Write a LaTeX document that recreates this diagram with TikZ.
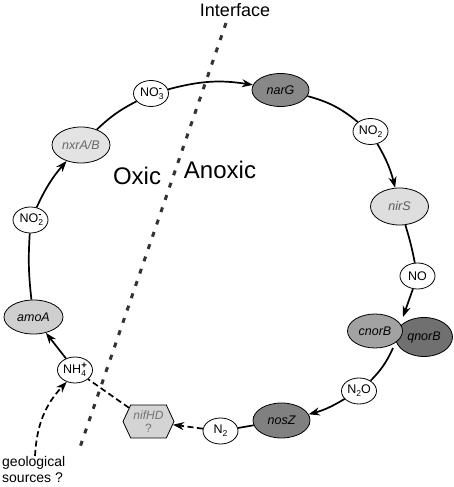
\documentclass[tikz,border=0pt]{standalone}
\usepackage{fontspec}
\setmainfont{Liberation Sans}
\usetikzlibrary{shapes.geometric,shapes.symbols,arrows.meta}
\newcommand\chemsub[1]{\raisebox{-3pt}{\fontsize{8.5}{9}\selectfont #1}}
\newcommand\chemsup[1]{\raisebox{5pt}{\fontsize{9.5}{9}\selectfont\bfseries #1}}
\newcommand\chemsubsup[2]{\rlap{\chemsub{#1}}\chemsup{#2}}
\definecolor{gdark}{HTML}{888888}
\definecolor{gnos}{HTML}{808080}
\definecolor{gcnor}{HTML}{A2A2A2}
\definecolor{gqnor}{HTML}{707070}
\definecolor{glight}{HTML}{DEDEDE}
\definecolor{gamo}{HTML}{CFCFCF}
\definecolor{gnxr}{HTML}{E3E3E3}
\definecolor{gnif}{HTML}{D4D4D4}
\tikzset{
  species/.style={ellipse, draw, line width=0.8pt, fill=white, inner sep=0pt,
    minimum width=35pt, minimum height=26pt, font=\fontsize{12.5}{14}\selectfont},
  gene/.style={ellipse, draw, line width=0.8pt, inner sep=0pt,
    minimum width=58pt, minimum height=35pt, font=\fontsize{12.5}{14}\selectfont\itshape},
  flow/.style={line width=1.7pt},
  arr/.style={flow, -{Stealth[length=11pt,width=8pt]}},
  dflow/.style={flow, dash pattern=on 6pt off 3.5pt},
  darr/.style={dflow, -{Stealth[length=11pt,width=8pt]}},
  interface/.style={line width=3pt, draw=black!80, dash pattern=on 5pt off 8pt},
  zonelabel/.style={font=\fontsize{24}{28}\selectfont},
}
\begin{document}
\begin{tikzpicture}[x=1pt,y=1pt]
\useasboundingbox (0,0) rectangle (454,487);
% interface line
\coordinate (itop) at (226,464);
\coordinate (ibot) at (78,34);
\draw[interface] (itop) -- (ibot);
\node[font=\fontsize{18}{20}\selectfont] (iface) at (235,477) {Interface};
\node[zonelabel] (oxic) at (137,311) {Oxic};
\node[zonelabel] (anoxic) at (220,317) {Anoxic};

% nodes
\node[species] (no3) at (151,393.5) {NO\chemsubsup{3}{-}};
\node[gene, fill=gdark, minimum width=57pt, minimum height=33pt] (narG) at (280.5,397) {narG};
\node[species] (no2r) at (370.5,355.5) {NO\chemsub{2}};
\node[gene, fill=glight, text=black!65, minimum height=37pt] (nirS) at (399.5,280.5) {nirS};
\node[species] (no) at (417.5,211) {NO};
\node[gene, fill=gqnor, minimum width=57pt, minimum height=39pt] (qnorB) at (424,150) {qnorB};
\node[gene, fill=gcnor, minimum width=55pt, minimum height=34pt] (cnorB) at (375,156) {cnorB};
\coordinate (jtop) at (403,170);
\coordinate (jbot) at (393,139);
\node[species] (n2o) at (359,96) {N\chemsub{2}O};
\node[gene, fill=gnos, minimum width=57pt] (nosZ) at (281.5,66.5) {nosZ};
\node[species] (n2) at (220.5,56) {N\chemsub{2}};
\node[signal, signal to=east and west, signal pointer angle=130, draw, line width=0.8pt,
      fill=gnif, text=black!55, inner sep=0pt, minimum width=51pt, minimum height=33pt,
      align=center, font=\fontsize{12}{13}\selectfont] (nif) at (148.5,65.5) {\itshape nifHD\\?};
\node[species] (nh4) at (75,117) {NH\chemsubsup{4}{+}};
\node[gene, fill=gamo, minimum width=59pt, minimum height=34pt] (amoA) at (33.5,170) {amoA};
\node[species] (no2l) at (30.5,267) {NO\chemsubsup{2}{-}};
\node[gene, fill=gnxr, text=black!60, minimum height=36pt] (nxr) at (81,342) {nxrA/B};

\node[align=left, anchor=north west, inner sep=0pt, font=\fontsize{14}{16.5}\selectfont] (geo) at (2,31) {geological\\sources ?};
\coordinate (gs) at (35,31);

% cycle
\draw[arr] (no3) to[bend left=12] (narG);
\draw[flow] (narG) to[bend left=12] (no2r);
\draw[arr] (no2r) to[bend left=8] (nirS);
\draw[flow] (nirS) to[bend left=3] (no);
\draw[arr] (no) -- (jtop);
\draw[flow] (jbot) to[bend left=10] (n2o);
\draw[arr] (n2o) to[bend left=8] (nosZ);
\draw[flow] (nosZ) -- (n2);
\draw[darr] (n2) -- (nif);
\draw[dflow] (nif) -- (nh4);
\draw[arr] (nh4) -- (amoA);
\draw[flow] (amoA) to[bend left=5] (no2l);
\draw[arr] (no2l) to[bend left=8] (nxr);
\draw[flow] (nxr) to[bend left=8] (no3);
\draw[darr] (gs) to[bend left=20] (nh4.235);
\end{tikzpicture}
\end{document}
